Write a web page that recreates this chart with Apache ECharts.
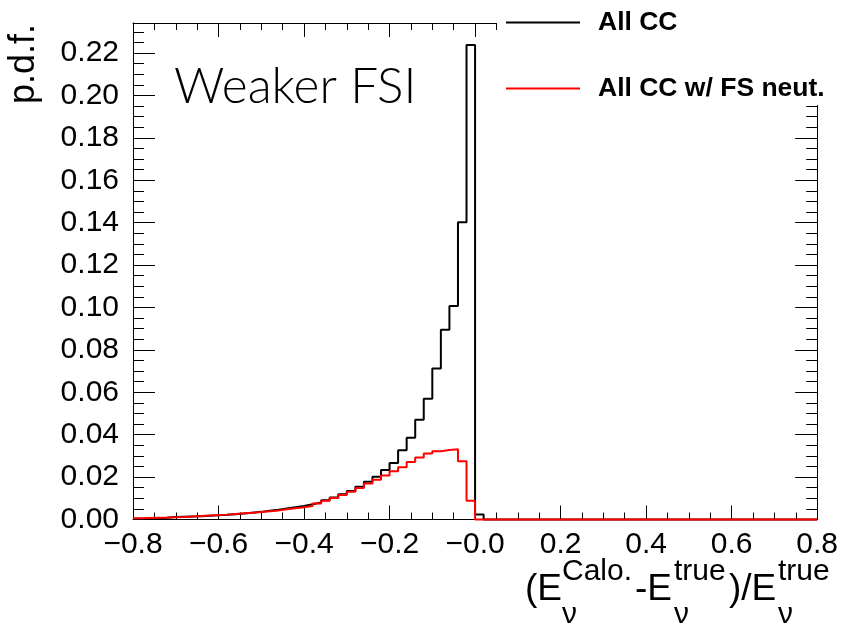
<!DOCTYPE html>
<html>
<head>
<meta charset="utf-8">
<script src="https://cdn.jsdelivr.net/npm/echarts@6/dist/echarts.min.js"></script>
<style>
html,body{margin:0;padding:0;background:#fff;}
#chart{width:841px;height:624px;}
</style>
</head>
<body>
<div id="chart"></div>
<script>
// Histogram binning (from -0.8 to 0.8, width 0.02)
const binStart = -0.8;
const binWidth = 0.02;
const binEnd = 0.8;

// "All CC" p.d.f. per bin (80 bins)
const allCC = [
  0.0004,0.0005,0.0006,0.0008,0.0012,0.0013,0.0014,0.0015,0.0018,0.0020,
  0.0022,0.0025,0.0028,0.0032,0.0036,0.0041,0.0046,0.0052,0.0058,0.0064,
  0.0072,0.0080,0.0091,0.0104,0.0119,0.0135,0.0155,0.0178,0.0202,0.0234,
  0.0266,0.0327,0.0386,0.0470,0.0569,0.0712,0.0895,0.1007,0.1402,0.2238,
  0.0024,0,0,0,0,0,0,0,0,0,
  0,0,0,0,0,0,0,0,0,0,
  0,0,0,0,0,0,0,0,0,0,
  0,0,0,0,0,0,0,0,0,0
];

// "All CC w/ FS neut." p.d.f. per bin (80 bins)
const allCCFSNeut = [
  0.0006,0.0007,0.0008,0.0009,0.0011,0.0012,0.0014,0.0016,0.0019,0.0021,
  0.0023,0.0026,0.0029,0.0032,0.0035,0.0039,0.0043,0.0048,0.0053,0.0058,
  0.0064,0.0076,0.0089,0.0102,0.0115,0.0131,0.0148,0.0170,0.0188,0.0207,
  0.0228,0.0247,0.0271,0.0292,0.0311,0.0322,0.0328,0.0331,0.0275,0.0089,
  0,0,0,0,0,0,0,0,0,0,
  0,0,0,0,0,0,0,0,0,0,
  0,0,0,0,0,0,0,0,0,0,
  0,0,0,0,0,0,0,0,0,0
];

const seriesNames = ['All CC', 'All CC w/ FS neut.'];
const xTickLabels = ['\u22120.8','\u22120.6','\u22120.4','\u22120.2','\u22120.0','0.2','0.4','0.6','0.8'];
const yTickLabels = ['0.00','0.02','0.04','0.06','0.08','0.10','0.12','0.14','0.16','0.18','0.20','0.22'];
const xMajor = 0.2, xMinor = 0.05;
const yMajor = 0.02, yMinor = 0.005;
const yMax = 0.2342;

function toStep(values) {
  const pts = values.map((v, i) => [binStart + i * binWidth, v]);
  pts.push([binEnd, values[values.length - 1]]);
  return pts;
}

const chart = echarts.init(document.getElementById('chart'), null, {renderer: 'canvas'});

const labelFont = 'Liberation Sans, Arial, Helvetica, sans-serif';

function xAxisDef(pos, interval, len, labels, line) {
  return {
    type: 'value', position: pos, min: -0.8, max: 0.8, interval: interval,
    axisLine: {show: line, onZero: false, lineStyle: {color: '#000', width: 1}},
    axisTick: {show: true, inside: true, length: len, lineStyle: {color: '#000', width: 1}},
    axisLabel: labels ? {
      show: true, margin: 10, fontSize: 30, color: '#000', fontFamily: labelFont,
      formatter: function (v) {
        const k = Math.round((v + 0.8) / xMajor);
        return Math.abs(-0.8 + k * xMajor - v) < 1e-6 ? xTickLabels[k] : '';
      }
    } : {show: false},
    splitLine: {show: false}
  };
}
function yAxisDef(pos, interval, len, labels, line) {
  return {
    type: 'value', position: pos, min: 0, max: yMax, interval: interval,
    axisLine: {show: line, onZero: false, lineStyle: {color: '#000', width: 1}},
    axisTick: {show: true, inside: true, length: len, lineStyle: {color: '#000', width: 1}},
    axisLabel: labels ? {
      show: true, margin: 14, fontSize: 30, color: '#000', fontFamily: labelFont,
      formatter: function (v) {
        const k = Math.round(v / yMajor);
        return (k < yTickLabels.length && Math.abs(k * yMajor - v) < 1e-6) ? yTickLabels[k] : '';
      }
    } : {show: false},
    splitLine: {show: false}
  };
}

const mainF = 37, supF = 30;
const mainY = 590, supY = 572, subY = 615;
function piece(x, y, text, size) {
  return {type: 'text', z: 101, x: x, y: y,
    style: {text: text, font: size + 'px ' + labelFont, fill: '#000', verticalAlign: 'middle', align: 'left'}};
}
const option = {
  animation: false,
  backgroundColor: '#fff',
  grid: {left: 133, right: 19, top: 23, bottom: 104.5, containLabel: false},
  xAxis: [
    xAxisDef('bottom', xMajor, 14, true, true),
    xAxisDef('bottom', xMinor, 7, false, false),
    xAxisDef('top', xMajor, 14, false, true),
    xAxisDef('top', xMinor, 7, false, false)
  ],
  yAxis: [
    yAxisDef('left', yMajor, 22, true, true),
    yAxisDef('left', yMinor, 11, false, false),
    yAxisDef('right', yMajor, 22, false, true),
    yAxisDef('right', yMinor, 11, false, false)
  ],
  legend: {
    orient: 'vertical', left: 506, top: 9, padding: 0, itemGap: 39,
    itemWidth: 74, itemHeight: 2, icon: 'rect', z: 200,
    textStyle: {fontSize: 26.5, fontWeight: 'bold', color: '#000', fontFamily: labelFont, lineHeight: 26, padding: [0, 0, 0, 13]},
    data: seriesNames
  },
  series: [
    {name: seriesNames[0], type: 'line', step: 'end', symbol: 'none', clip: false,
     data: toStep(allCC), lineStyle: {color: '#000', width: 2}, itemStyle: {color: '#000'}, z: 3},
    {name: seriesNames[1], type: 'line', step: 'end', symbol: 'none', clip: false,
     data: toStep(allCCFSNeut), lineStyle: {color: '#ff0000', width: 2}, itemStyle: {color: '#ff0000'}, z: 4}
  ],
  graphic: [
    {type: 'rect', z: 100, shape: {x: 497, y: 0, width: 344, height: 105}, style: {fill: '#fff'}},
    {type: 'text', z: 101, x: 174, y: 87, style: {text: 'Weaker FSI', font: '300 49.5px Lato, sans-serif', fill: '#000', verticalAlign: 'middle', align: 'left'}},
    {type: 'text', z: 101, x: 24, y: 64, rotation: Math.PI / 2, style: {text: 'p.d.f.', font: '36px ' + labelFont, fill: '#000', verticalAlign: 'middle', align: 'center'}},
    piece(525, mainY, '(E', mainF),
    piece(562, supY, 'Calo.', supF),
    piece(562, subY, '\u03bd', supF),
    piece(635, mainY, '-E', mainF),
    piece(674, supY, 'true', supF),
    piece(674, subY, '\u03bd', supF),
    piece(729, mainY, ')/E', mainF),
    piece(778, supY, 'true', supF),
    piece(778, subY, '\u03bd', supF)
  ]
};
chart.setOption(option);
</script>
</body>
</html>
